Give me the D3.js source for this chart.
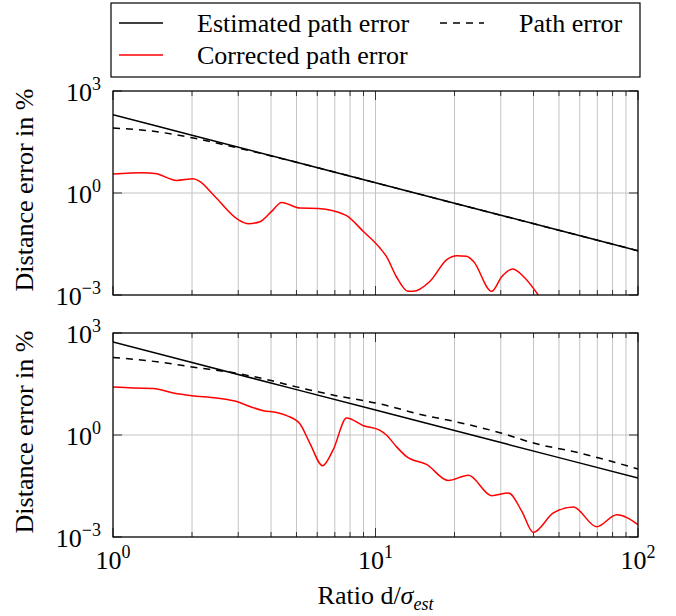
<!DOCTYPE html>
<html>
<head>
<meta charset="utf-8">
<script src="https://cdn.jsdelivr.net/npm/d3@7"></script>
<style>
  body { margin: 0; background: #fff; }
</style>
</head>
<body>
<div id="chart"></div>
<script>
// Data (x = ratio d/sigma, y = distance error in %)
const xTicksMajor = [1, 10, 100];
const xTicksMinor = [2, 3, 4, 5, 6, 7, 8, 9, 20, 30, 40, 50, 60, 70, 80, 90];
const yTicksMajor = [1e-3, 1e0, 1e3];
const xTickExp = ["0", "1", "2"];
const yTickExp = ["\u22123", "0", "3"];

// top panel
const topEstX = [1, 2, 5, 10, 20, 50, 100];
const topEstY = [200, 50, 8, 2, 0.5, 0.08, 0.02];
const topPathX = [1, 1.5, 2, 3, 4, 5, 10, 20, 50, 100];
const topPathY = [82, 62, 42, 21, 12.3, 8, 2, 0.5, 0.08, 0.02];
const topCorrX = [1, 1.3, 1.445, 1.75, 2.02, 2.14, 2.41, 3.0, 3.28, 3.63, 4.02, 4.39, 5.15, 6.05, 6.9, 7.76, 8.99, 10.4, 11.0, 12.0, 13.3, 13.9, 16.1, 18.7, 20.4, 22.2, 23.6, 27.7, 30.3, 33.3, 36.6, 41.7];
const topCorrY = [3.6, 3.95, 3.77, 2.35, 2.63, 2.19, 0.89, 0.164, 0.125, 0.143, 0.288, 0.53, 0.36, 0.35, 0.30, 0.215, 0.074, 0.024, 0.0137, 0.0035, 0.00128, 0.00128, 0.0025, 0.011, 0.0143, 0.0137, 0.0098, 0.00128, 0.0035, 0.0058, 0.0035, 0.001];

// bottom panel
const botEstX = [1, 2, 5, 10, 20, 50, 100];
const botEstY = [540, 135, 21.6, 5.4, 1.35, 0.216, 0.054];
const botPathX = [1, 1.5, 2, 3, 4, 5, 7, 10.4, 15, 20, 30, 40, 60, 100];
const botPathY = [191, 140, 100, 64, 40, 26, 14.6, 8.2, 3.95, 2.5, 1.15, 0.58, 0.295, 0.1];
const botCorrX = [1, 1.195, 1.425, 1.70, 2.0, 2.48, 3.0, 3.32, 3.74, 4.2, 4.59, 5.15, 5.62, 6.29, 6.9, 7.76, 8.99, 10.4, 11.0, 12.0, 13.1, 15.7, 18.9, 22.6, 27.7, 32.1, 36.1, 39.9, 47.6, 56.7, 69.6, 83.0, 100];
const botCorrY = [25.8, 24.2, 23.5, 17.2, 14.3, 12.2, 9.3, 6.9, 5.2, 4.6, 3.7, 2.15, 0.58, 0.125, 0.37, 3.16, 1.88, 1.36, 1.0, 0.46, 0.235, 0.134, 0.046, 0.065, 0.0164, 0.0197, 0.0057, 0.00136, 0.0051, 0.0076, 0.0020, 0.0045, 0.0023];

const legendLabels = ["Estimated path error", "Path error", "Corrected path error"];

const W = 676, H = 616;
const left = 113, right = 638;
const fs = 26, supFs = 18;
const serif = '"Liberation Serif"';

const svg = d3.select("#chart").append("svg")
    .attr("width", W)
    .attr("height", H);

const x = d3.scaleLog().domain([1, 100]).range([left, right]);

const zip = (xs, ys) => xs.map((v, i) => ({ x: v, y: ys[i] }));

// power-of-ten label: "10" with a raised exponent
function powLabel(sel, exp) {
    sel.append("tspan").text("10");
    sel.append("tspan").attr("dy", -11).style("font-size", supFs + "px").text(exp);
}

function drawPanel(top, bottom, series, id, showX) {
    const y = d3.scaleLog().domain([1e-3, 1e3]).range([bottom, top]);
    const g = svg.append("g");

    g.append("clipPath").attr("id", id)
      .append("rect")
        .attr("x", left).attr("y", top)
        .attr("width", right - left).attr("height", bottom - top);

    // grid
    g.selectAll(".vgrid")
      .data(xTicksMinor.concat(xTicksMajor))
      .join("line")
        .attr("x1", d => x(d)).attr("x2", d => x(d))
        .attr("y1", top).attr("y2", bottom)
        .attr("stroke", "#c4c4c4").attr("stroke-width", 1);

    g.selectAll(".hgrid")
      .data(yTicksMajor)
      .join("line")
        .attr("x1", left).attr("x2", right)
        .attr("y1", d => y(d)).attr("y2", d => y(d))
        .attr("stroke", "#c4c4c4").attr("stroke-width", 1);

    // tick marks (inside)
    const ticks = g.append("g").attr("stroke", "#333").attr("stroke-width", 1);
    xTicksMinor.forEach(d => {
        ticks.append("line").attr("x1", x(d)).attr("x2", x(d)).attr("y1", top).attr("y2", top + 5);
        ticks.append("line").attr("x1", x(d)).attr("x2", x(d)).attr("y1", bottom).attr("y2", bottom - 5);
    });
    xTicksMajor.forEach(d => {
        ticks.append("line").attr("x1", x(d)).attr("x2", x(d)).attr("y1", top).attr("y2", top + 9);
        ticks.append("line").attr("x1", x(d)).attr("x2", x(d)).attr("y1", bottom).attr("y2", bottom - 9);
    });
    yTicksMajor.forEach(d => {
        ticks.append("line").attr("x1", left).attr("x2", left + 9).attr("y1", y(d)).attr("y2", y(d));
        ticks.append("line").attr("x1", right).attr("x2", right - 9).attr("y1", y(d)).attr("y2", y(d));
    });

    // lines
    const line = d3.line()
        .x(d => x(d.x))
        .y(d => y(d.y))
        .curve(d3.curveMonotoneX);

    const lines = g.append("g").attr("clip-path", `url(#${id})`);
    series.forEach(s => {
        lines.append("path")
            .datum(s.data)
            .attr("fill", "none")
            .attr("stroke", s.color)
            .attr("stroke-width", 1.5)
            .attr("stroke-dasharray", s.dash || null)
            .attr("d", line);
    });

    // frame
    g.append("rect")
        .attr("x", left).attr("y", top)
        .attr("width", right - left).attr("height", bottom - top)
        .attr("fill", "none").attr("stroke", "#000").attr("stroke-width", 1.2);

    // y tick labels
    yTicksMajor.forEach((d, i) => {
        g.append("text")
            .attr("x", 101).attr("y", y(d) + 10)
            .attr("text-anchor", "end")
            .style("font-family", serif)
            .style("font-size", fs + "px")
            .call(powLabel, yTickExp[i]);
    });

    // y label
    g.append("text")
        .attr("transform", `translate(33,${(top + bottom) / 2 - 3}) rotate(-90)`)
        .attr("text-anchor", "middle")
        .style("font-family", serif)
        .style("font-size", fs + "px")
        .text("Distance error in %");

    if (showX) {
        xTicksMajor.forEach((d, i) => {
            g.append("text")
                .attr("x", x(d)).attr("y", bottom + 32)
                .attr("text-anchor", "middle")
                .style("font-family", serif)
                .style("font-size", fs + "px")
                .call(powLabel, xTickExp[i]);
        });
    }
}

drawPanel(91, 295, [
    { data: zip(topPathX, topPathY), color: "#000", dash: "7,6" },
    { data: zip(topEstX, topEstY), color: "#000" },
    { data: zip(topCorrX, topCorrY), color: "#ff0000" }
], "clipTop", false);

drawPanel(333, 537, [
    { data: zip(botPathX, botPathY), color: "#000", dash: "7,6" },
    { data: zip(botEstX, botEstY), color: "#000" },
    { data: zip(botCorrX, botCorrY), color: "#ff0000" }
], "clipBot", true);

// x label
const xl = svg.append("text")
    .attr("x", (left + right) / 2).attr("y", 604)
    .attr("text-anchor", "middle")
    .style("font-family", serif)
    .style("font-size", fs + "px");
xl.append("tspan").text("Ratio d/");
xl.append("tspan").style("font-style", "italic").text("\u03c3");
xl.append("tspan").attr("dy", 6).style("font-style", "italic").style("font-size", supFs + "px").text("est");

// legend
const legend = svg.append("g");
legend.append("rect")
    .attr("x", 111).attr("y", 3)
    .attr("width", 529).attr("height", 74)
    .attr("fill", "#fff").attr("stroke", "#000").attr("stroke-width", 1.2);

const legendItems = [
    { label: legendLabels[0], color: "#000", dash: null, lx: 119, tx: 197, ly: 23 },
    { label: legendLabels[1], color: "#000", dash: "7,6", lx: 440, tx: 519, ly: 23 },
    { label: legendLabels[2], color: "#ff0000", dash: null, lx: 119, tx: 197, ly: 55 }
];
legendItems.forEach(d => {
    legend.append("line")
        .attr("x1", d.lx).attr("x2", d.lx + 44)
        .attr("y1", d.ly).attr("y2", d.ly)
        .attr("stroke", d.color).attr("stroke-width", 1.5)
        .attr("stroke-dasharray", d.dash);
    legend.append("text")
        .attr("x", d.tx).attr("y", d.ly + 8.5)
        .style("font-family", serif)
        .style("font-size", fs + "px")
        .text(d.label);
});
</script>
</body>
</html>
